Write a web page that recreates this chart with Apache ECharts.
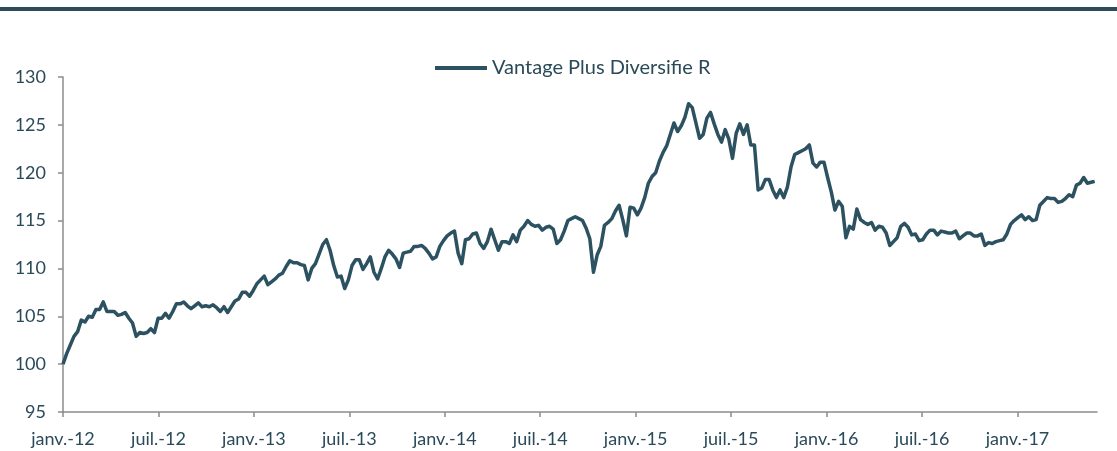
<!DOCTYPE html>
<html>
<head>
<meta charset="utf-8">
<script src="https://cdn.jsdelivr.net/npm/echarts@6/dist/echarts.min.js"></script>
<style>
html,body{margin:0;padding:0;background:#fff;}
#c{width:1117px;height:451px;}
</style>
</head>
<body>
<div id="c"></div>
<script>
// Series name
const seriesName = 'Vantage Plus Diversifie R';
// First observation date (weekly data)
const startYear = 2012;
// Weekly NAV values (base 100)
const navValues = [
100.0,101.1,102.0,102.9,103.4,104.6,104.4,105.0,104.9,105.7,
105.7,106.5,105.5,105.5,105.5,105.1,105.2,105.4,104.8,104.3,
102.9,103.3,103.2,103.3,103.7,103.3,104.8,104.8,105.3,104.8,
105.5,106.3,106.3,106.5,106.1,105.8,106.1,106.4,106.0,106.1,
106.0,106.2,105.9,105.5,106.0,105.4,106.0,106.6,106.8,107.5,
107.5,107.1,107.7,108.4,108.8,109.2,108.3,108.6,108.9,109.3,
109.5,110.2,110.8,110.6,110.6,110.4,110.3,108.8,110.0,110.5,
111.5,112.5,113.0,111.9,110.3,109.1,109.2,107.9,108.8,110.3,
110.9,110.9,109.9,110.5,111.2,109.6,108.9,110.0,111.2,111.9,
111.5,111.0,110.1,111.6,111.7,111.8,112.3,112.3,112.4,112.1,
111.6,111.0,111.2,112.3,112.9,113.4,113.7,113.9,111.6,110.5,
113.0,113.1,113.6,113.7,112.6,112.1,112.8,114.1,113.0,111.9,
112.8,112.8,112.6,113.5,112.8,114.0,114.4,115.0,114.6,114.4,
114.5,114.0,114.3,114.4,114.1,112.6,113.0,113.9,115.0,115.2,
115.4,115.2,115.0,114.2,113.1,109.6,111.4,112.3,114.5,114.8,
115.2,116.0,116.6,115.1,113.4,116.4,116.3,115.6,116.3,117.4,
118.9,119.6,120.0,121.2,122.1,122.8,124.0,125.2,124.3,124.9,
125.8,127.2,126.8,125.2,123.6,124.0,125.7,126.3,125.1,124.0,
123.2,124.5,123.5,121.5,124.1,125.1,124.0,125.0,122.9,122.9,
118.2,118.4,119.3,119.3,118.2,117.4,118.2,117.4,118.5,120.6,
121.9,122.1,122.3,122.5,122.9,121.0,120.6,121.1,121.1,119.5,
118.0,116.1,117.0,116.5,113.2,114.4,114.1,116.2,115.1,114.8,
114.6,114.8,114.0,114.4,114.3,113.7,112.4,112.8,113.2,114.4,
114.7,114.3,113.5,113.6,112.9,113.0,113.6,114.0,114.0,113.5,
113.9,113.8,113.7,113.7,113.9,113.1,113.4,113.7,113.7,113.4,
113.4,113.6,112.4,112.7,112.6,112.8,112.9,113.0,113.6,114.6,
115.0,115.3,115.6,115.1,115.4,115.0,115.1,116.6,117.0,117.4,
117.3,117.3,116.9,117.0,117.3,117.7,117.5,118.7,118.9,119.5,
118.9,119.0,119.1
];
// Y axis ticks
const yTicks = [95,100,105,110,115,120,125,130];
// X axis tick labels every 6 months
const monthNames = ['janv.','juil.'];
const xTickMonths = [0,6,12,18,24,30,36,42,48,54,60];

const daysPerMonth = 30.4375;
const seriesData = navValues.map((v, i) => [i * 7 / daysPerMonth, v]);

const textColor = '#2b4a59';
const lineColor = '#2c5262';
const fontFamily = 'Lato, "Open Sans", sans-serif';

const chart = echarts.init(document.getElementById('c'), null, {renderer: 'canvas'});
chart.setOption({
  animation: false,
  backgroundColor: '#ffffff',
  graphic: [{
    type: 'rect',
    shape: {x: 0, y: 7, width: 1117, height: 4},
    style: {fill: '#2e4c5b'}
  }],
  legend: {
    data: [seriesName],
    left: 430,
    top: 53,
    icon: 'rect',
    itemWidth: 52,
    itemHeight: 4,
    itemGap: 5,
    textStyle: {color: textColor, fontSize: 20, fontFamily: fontFamily, padding: [0, 0, 0, 0]}
  },
  grid: {left: 63, right: 20, top: 77, bottom: 39, containLabel: false},
  xAxis: {
    type: 'value',
    min: 0,
    max: 65,
    interval: 6,
    splitLine: {show: false},
    axisLine: {lineStyle: {color: '#8c8c8c', width: 1.5}},
    axisTick: {show: true, length: 5, lineStyle: {color: '#8c8c8c', width: 1.5}, customValues: xTickMonths},
    axisLabel: {
      customValues: xTickMonths,
      color: textColor, fontSize: 18, fontFamily: fontFamily, margin: 18,
      formatter: function (v) {
        const m = Math.round(v);
        const yr = startYear + Math.floor(m / 12);
        return monthNames[(m % 12) / 6] + '-' + String(yr).slice(2);
      }
    }
  },
  yAxis: {
    type: 'value',
    min: yTicks[0],
    max: yTicks[yTicks.length - 1],
    interval: 5,
    splitLine: {show: false},
    axisLine: {show: true, lineStyle: {color: '#8c8c8c', width: 1.5}},
    axisTick: {show: true, length: 5, lineStyle: {color: '#8c8c8c', width: 1.5}},
    axisLabel: {color: textColor, fontSize: 18, fontFamily: fontFamily, margin: 17}
  },
  series: [{
    name: seriesName,
    type: 'line',
    data: seriesData,
    showSymbol: false,
    symbol: 'none',
    lineStyle: {color: lineColor, width: 3.5, join: 'round'},
    itemStyle: {color: lineColor}
  }]
});
</script>
</body>
</html>
